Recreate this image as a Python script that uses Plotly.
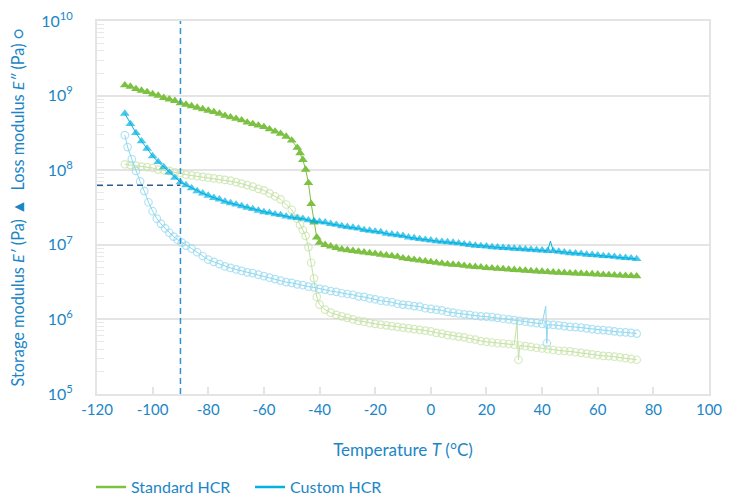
import plotly.graph_objects as go

# ---------------- data ----------------
# Standard HCR - storage modulus E' (Pa), filled triangles
t_std_storage = [-110, -108, -106, -104, -102, -100, -98, -96, -94, -92, -90, -88, -86, -84, -82,
                 -80, -78, -76, -74, -72, -70, -68, -66, -64, -62, -60, -58, -56, -54, -52, -50,
                 -48, -47, -46, -45, -44, -43, -42, -41, -40,
                 -38, -36, -34, -32, -30, -28, -26, -24, -22, -20, -18, -16, -14, -12, -10, -8, -6, -4, -2,
                 0, 2, 4, 6, 8, 10, 12, 14, 16, 18, 20, 22, 24, 26, 28, 30, 32, 34, 36, 38, 40,
                 42, 44, 46, 48, 50, 52, 54, 56, 58, 60, 62, 64, 66, 68, 70, 72, 74]
e_std_storage = [1.38e9, 1.32e9, 1.23e9, 1.17e9, 1.12e9, 1.05e9, 1.00e9, 9.33e8, 8.91e8, 8.51e8,
                 7.94e8, 7.59e8, 7.24e8, 6.92e8, 6.61e8, 6.31e8, 6.03e8, 5.75e8, 5.37e8, 5.13e8,
                 4.90e8, 4.68e8, 4.37e8, 4.17e8, 3.98e8, 3.80e8, 3.55e8, 3.31e8, 3.09e8, 2.82e8, 2.51e8,
                 2.00e8, 1.70e8, 1.38e8, 1.02e8, 6.76e7, 3.55e7, 2.00e7, 1.26e7, 1.07e7,
                 1.00e7, 9.55e6, 9.12e6, 8.71e6, 8.51e6, 8.32e6, 8.13e6, 7.94e6, 7.76e6, 7.59e6,
                 7.41e6, 7.24e6, 7.08e6, 6.92e6, 6.61e6, 6.46e6, 6.31e6, 6.17e6, 6.03e6,
                 5.89e6, 5.75e6, 5.62e6, 5.50e6, 5.43e6, 5.37e6, 5.25e6, 5.13e6, 5.07e6, 5.01e6,
                 4.90e6, 4.85e6, 4.79e6, 4.74e6, 4.68e6, 4.63e6, 4.57e6, 4.52e6, 4.47e6, 4.42e6, 4.37e6,
                 4.32e6, 4.27e6, 4.25e6, 4.22e6, 4.17e6, 4.15e6, 4.12e6, 4.07e6, 4.05e6, 4.02e6,
                 3.98e6, 3.95e6, 3.92e6, 3.89e6, 3.86e6, 3.83e6, 3.80e6]

# Standard HCR - loss modulus E'' (Pa), open circles
t_std_loss = [-110, -108, -106, -104, -102, -100, -98, -96, -94, -92, -90, -88, -86, -84, -82,
              -80, -78, -76, -74, -72, -70, -68, -66, -64, -62, -60, -58, -56, -54, -52, -50,
              -48, -47, -46, -45, -44, -43, -42, -41, -40,
              -38, -36, -34, -32, -30, -28, -26, -24, -22, -20, -18, -16, -14, -12, -10, -8, -6, -4, -2,
              0, 2, 4, 6, 8, 10, 12, 14, 16, 18, 20, 22, 24, 26, 28, 30,
              31, 31.5,
              32, 34, 36, 38, 40, 42, 44, 46, 48, 50, 52, 54, 56, 58, 60, 62, 64, 66, 68, 70, 72, 74]
e_std_loss = [1.20e8, 1.17e8, 1.15e8, 1.12e8, 1.10e8, 1.07e8, 1.02e8, 1.00e8, 9.77e7, 9.33e7,
              9.12e7, 8.71e7, 8.51e7, 8.32e7, 8.13e7, 7.94e7, 7.76e7, 7.59e7, 7.41e7, 7.24e7,
              6.92e7, 6.61e7, 6.31e7, 6.03e7, 5.62e7, 5.37e7, 4.90e7, 4.47e7, 4.07e7, 3.47e7, 2.95e7,
              2.24e7, 1.86e7, 1.58e7, 1.32e7, 9.33e6, 5.75e6, 3.55e6, 2.00e6, 1.58e6,
              1.35e6, 1.23e6, 1.15e6, 1.10e6, 1.05e6, 1.00e6, 9.55e5, 9.33e5, 8.91e5, 8.71e5,
              8.51e5, 8.32e5, 8.13e5, 7.94e5, 7.76e5, 7.59e5, 7.41e5, 7.24e5, 7.08e5,
              6.92e5, 6.61e5, 6.46e5, 6.17e5, 6.03e5, 5.89e5, 5.75e5, 5.50e5, 5.37e5, 5.13e5,
              5.01e5, 4.90e5, 4.79e5, 4.75e5, 4.68e5, 4.57e5,
              9.33e5, 2.88e5,
              4.47e5, 4.37e5, 4.27e5, 4.17e5, 4.07e5, 3.98e5, 3.89e5, 3.80e5, 3.77e5, 3.72e5,
              3.63e5, 3.55e5, 3.47e5, 3.39e5, 3.31e5, 3.24e5, 3.22e5, 3.16e5, 3.09e5, 3.02e5,
              2.95e5, 2.88e5]

# Custom HCR - storage modulus E' (Pa), filled triangles
t_cus_storage = [-110, -108, -106, -104, -102, -100, -98, -96, -94, -92, -90, -88, -86, -84, -82,
                 -80, -78, -76, -74, -72, -70, -68, -66, -64, -62, -60, -58, -56, -54, -52, -50,
                 -48, -46, -44, -42, -40, -38, -36, -34, -32, -30, -28, -26, -24, -22, -20,
                 -18, -16, -14, -12, -10, -8, -6, -4, -2,
                 0, 2, 4, 6, 8, 10, 12, 14, 16, 18, 20, 22, 24, 26, 28, 30, 32, 34, 36, 38, 40, 42,
                 43,
                 44, 46, 48, 50, 52, 54, 56, 58, 60, 62, 64, 66, 68, 70, 72, 74]
e_cus_storage = [5.75e8, 4.17e8, 3.16e8, 2.45e8, 1.95e8, 1.55e8, 1.29e8, 1.10e8, 9.33e7, 7.94e7,
                 6.92e7, 6.31e7, 5.75e7, 5.25e7, 4.90e7, 4.57e7, 4.27e7, 4.07e7, 3.80e7, 3.63e7,
                 3.47e7, 3.31e7, 3.16e7, 3.02e7, 2.88e7, 2.75e7, 2.69e7, 2.57e7, 2.51e7, 2.40e7, 2.34e7,
                 2.29e7, 2.24e7, 2.14e7, 2.09e7, 2.04e7, 2.00e7, 1.91e7, 1.86e7, 1.78e7, 1.74e7,
                 1.70e7, 1.66e7, 1.58e7, 1.55e7, 1.51e7, 1.48e7, 1.41e7, 1.38e7, 1.35e7, 1.32e7,
                 1.26e7, 1.23e7, 1.20e7, 1.17e7,
                 1.15e7, 1.12e7, 1.10e7, 1.09e7, 1.07e7, 1.05e7, 1.02e7, 1.00e7, 9.77e6, 9.66e6,
                 9.55e6, 9.33e6, 9.25e6, 9.12e6, 9.05e6, 8.91e6, 8.85e6, 8.71e6, 8.65e6, 8.51e6,
                 8.45e6, 8.32e6,
                 1.12e7,
                 8.28e6, 8.13e6, 7.94e6, 7.76e6, 7.70e6, 7.59e6, 7.41e6, 7.35e6, 7.24e6, 7.08e6,
                 7.04e6, 6.92e6, 6.76e6, 6.70e6, 6.61e6, 6.46e6]

# Custom HCR - loss modulus E'' (Pa), open circles
t_cus_loss = [-110, -109, -107.5, -106, -104.5, -103, -101.5, -100, -98.5, -97, -95.5, -94, -92.5,
              -91, -89.5, -88,
              -86, -84, -82, -80, -78, -76, -74, -72, -70, -68, -66, -64, -62, -60, -58, -56, -54,
              -52, -50, -48, -46, -44, -42, -40, -38, -36, -34, -32, -30, -28, -26, -24, -22, -20,
              -18, -16, -14, -12, -10, -8, -6, -4, -2,
              0, 2, 4, 6, 8, 10, 12, 14, 16, 18, 20, 22, 24, 26, 28, 30, 32, 34, 36, 38, 40,
              41.3, 41.7,
              42, 44, 46, 48, 50, 52, 54, 56, 58, 60, 62, 64, 66, 68, 70, 72, 74]
e_cus_loss = [2.95e8, 2.04e8, 1.41e8, 9.77e7, 7.08e7, 5.25e7, 3.72e7, 2.82e7, 2.24e7, 1.91e7,
              1.66e7, 1.45e7, 1.29e7, 1.17e7, 1.07e7, 9.77e6,
              8.91e6, 7.94e6, 7.08e6, 6.31e6, 5.89e6, 5.50e6, 5.13e6, 4.90e6, 4.68e6, 4.47e6,
              4.27e6, 4.17e6, 3.98e6, 3.80e6, 3.63e6, 3.47e6, 3.31e6, 3.16e6, 3.09e6, 2.95e6,
              2.88e6, 2.75e6, 2.69e6, 2.57e6, 2.51e6, 2.40e6, 2.34e6, 2.24e6, 2.19e6, 2.14e6,
              2.04e6, 2.00e6, 1.91e6, 1.86e6, 1.78e6, 1.74e6, 1.70e6, 1.62e6, 1.58e6, 1.55e6,
              1.51e6, 1.48e6, 1.41e6,
              1.38e6, 1.35e6, 1.32e6, 1.26e6, 1.23e6, 1.20e6, 1.17e6, 1.15e6, 1.12e6, 1.10e6,
              1.09e6, 1.07e6, 1.05e6, 1.02e6, 1.00e6, 9.77e5, 9.55e5, 9.33e5, 9.12e5, 8.91e5, 8.71e5,
              1.51e6, 4.79e5,
              8.51e5, 8.45e5, 8.32e5, 8.13e5, 7.94e5, 7.88e5, 7.76e5, 7.59e5, 7.41e5, 7.24e5,
              7.19e5, 7.08e5, 6.92e5, 6.76e5, 6.71e5, 6.61e5, 6.46e5]

# spike tops drawn as line only (no marker visible in the reference)
hidden_std_loss = [31]
hidden_cus_loss = [41.3]
hidden_cus_storage = [43]

# reference (dashed) lines
ref_temperature = -90
ref_modulus = 6.3e7

x_ticks = [-120, -100, -80, -60, -40, -20, 0, 20, 40, 60, 80, 100]
y_tick_exponents = [5, 6, 7, 8, 9, 10]

series_names = ["Standard HCR", "Custom HCR"]

# ---------------- styles ----------------
GREEN = "#7cc142"
GREEN_LIGHT = "#c4e1a4"
CYAN = "#00b1e2"
CYAN_LIGHT = "#8fd7f0"
TEXT = "#1b86c6"
GRID = "#e4e4e4"
FONT = "Lato, 'Noto Sans', sans-serif"


def sizes(temps, hidden, base):
    return [0 if t in hidden else base for t in temps]


fig = go.Figure()

# loss moduli (open circles)
fig.add_trace(go.Scatter(
    x=t_std_loss, y=e_std_loss, mode="lines+markers", showlegend=False,
    line=dict(color=GREEN_LIGHT, width=1),
    marker=dict(symbol="circle-open", size=sizes(t_std_loss, hidden_std_loss, 7.5),
                color=GREEN_LIGHT, line=dict(width=1.2, color=GREEN_LIGHT))))
fig.add_trace(go.Scatter(
    x=t_cus_loss, y=e_cus_loss, mode="lines+markers", showlegend=False,
    line=dict(color=CYAN_LIGHT, width=1),
    marker=dict(symbol="circle-open", size=sizes(t_cus_loss, hidden_cus_loss, 7.5),
                color=CYAN_LIGHT, line=dict(width=1.2, color=CYAN_LIGHT))))

# storage moduli (filled triangles)
fig.add_trace(go.Scatter(
    x=t_std_storage, y=e_std_storage, mode="lines+markers", showlegend=False,
    line=dict(color=GREEN, width=1),
    marker=dict(symbol="triangle-up", size=8.5, color=GREEN, line=dict(width=0))))
fig.add_trace(go.Scatter(
    x=t_cus_storage, y=e_cus_storage, mode="lines+markers", showlegend=False,
    line=dict(color=CYAN, width=1),
    marker=dict(symbol="triangle-up", size=sizes(t_cus_storage, hidden_cus_storage, 8.5),
                color=CYAN, line=dict(width=0))))

# dashed reference lines
fig.add_trace(go.Scatter(
    x=[ref_temperature, ref_temperature], y=[10 ** y_tick_exponents[0], 10 ** y_tick_exponents[-1]],
    mode="lines", showlegend=False, hoverinfo="skip",
    line=dict(color="#2f93d6", width=1.5, dash="6px,4px")))
fig.add_trace(go.Scatter(
    x=[x_ticks[0], ref_temperature], y=[ref_modulus, ref_modulus],
    mode="lines", showlegend=False, hoverinfo="skip",
    line=dict(color="#2d5d8c", width=1.5, dash="6px,4px")))

# legend entries (line only)
for name, col in zip(series_names, [GREEN, CYAN]):
    fig.add_trace(go.Scatter(x=[None], y=[None], mode="lines", name=name,
                             line=dict(color=col, width=2.5)))

minor_vals = [m * 10 ** e for e in y_tick_exponents[:-1] for m in range(2, 10)]

# the page body adds an 8 px offset; margins compensate so the plot lands where the reference has it
fig.update_layout(
    width=738, height=496,
    margin=dict(l=89, r=37, t=13, b=110, autoexpand=False),
    paper_bgcolor="white", plot_bgcolor="white",
    font=dict(family=FONT, color=TEXT, size=15),
    legend=dict(orientation="h", xref="container", x=0.1125, xanchor="left",
                yref="container", y=0.034, yanchor="middle",
                font=dict(size=16, color=TEXT), itemwidth=30,
                entrywidth=114, entrywidthmode="pixels",
                bgcolor="rgba(0,0,0,0)"),
    xaxis=dict(
        range=[x_ticks[0], x_ticks[-1]], tickvals=x_ticks,
        ticktext=[str(v) for v in x_ticks],
        ticks="inside", ticklen=7, tickcolor=GRID, tickwidth=1.5,
        showline=True, linecolor=GRID, linewidth=2, mirror=True,
        showgrid=False, zeroline=False, automargin=False,
        tickfont=dict(size=15, color=TEXT), ticklabelstandoff=1,
        title=dict(text="Temperature <i>T</i> (°C)", font=dict(size=17, color=TEXT), standoff=27),
    ),
    yaxis=dict(
        type="log", range=[y_tick_exponents[0], y_tick_exponents[-1]],
        tickvals=[10 ** e for e in y_tick_exponents],
        ticktext=["10<sup>%d</sup>" % e for e in y_tick_exponents],
        ticks="", showline=True, linecolor=GRID, linewidth=2, mirror=True,
        showgrid=True, gridcolor=GRID, gridwidth=1.5, zeroline=False, automargin=False,
        tickfont=dict(size=16, color=TEXT), ticklabelstandoff=19,
        minor=dict(tickvals=minor_vals, ticks="inside", ticklen=7, tickcolor="#e8e8e8",
                   tickwidth=1.2, showgrid=False),
        title=dict(text="Storage modulus <i>E′</i> (Pa) ▲  Loss modulus <i>E″</i> (Pa) ○",
                   font=dict(size=16.3, color=TEXT), standoff=18),
    ),
)

fig.write_html("out.html")
